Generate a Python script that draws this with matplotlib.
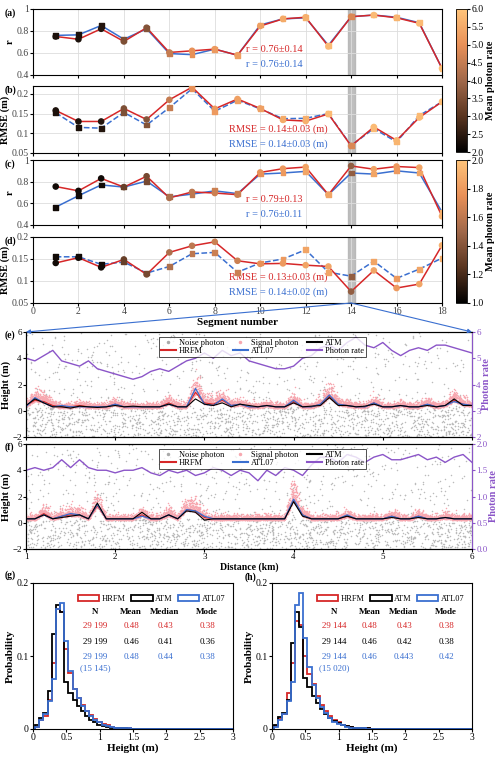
import numpy as np
import matplotlib
matplotlib.use("Agg")
import matplotlib.pyplot as plt
from matplotlib.colors import LinearSegmentedColormap, Normalize
from matplotlib.patches import ConnectionPatch
from matplotlib.lines import Line2D
from matplotlib.patches import Patch

plt.rcParams['font.family'] = ['Liberation Serif', 'DejaVu Serif']
plt.rcParams['font.size'] = 7

RED = '#d62728'; BLUE = '#3a6fd0'; PURP = '#8b55c8'

seg = np.arange(1, 19)
r_h_a = [0.75,0.725,0.82,0.705,0.83,0.605,0.62,0.635,0.58,0.845,0.91,0.925,0.66,0.93,0.945,0.92,0.87,0.46]
r_a_a = [0.76,0.765,0.85,0.725,0.82,0.595,0.585,0.635,0.58,0.855,0.91,0.92,0.67,0.93,0.945,0.925,0.875,0.46]
rm_h_b = [0.158,0.13,0.13,0.163,0.135,0.185,0.217,0.162,0.187,0.163,0.134,0.131,0.149,0.068,0.116,0.082,0.14,0.18]
rm_a_b = [0.152,0.115,0.113,0.153,0.121,0.165,0.213,0.156,0.184,0.162,0.137,0.138,0.150,0.069,0.112,0.078,0.145,0.18]
rate_ab = [2.3,2.3,2.4,3.5,3.6,4.5,5.0,5.2,5.3,5.3,5.5,5.6,5.8,4.8,5.8,5.7,5.8,5.9]
r_h_c = [0.755,0.715,0.83,0.75,0.85,0.65,0.705,0.695,0.68,0.885,0.92,0.935,0.68,0.945,0.915,0.94,0.93,0.48]
r_a_c = [0.565,0.67,0.77,0.75,0.805,0.66,0.685,0.715,0.69,0.87,0.88,0.895,0.68,0.88,0.87,0.9,0.88,0.52]
rm_h_d = [0.141,0.153,0.131,0.149,0.115,0.165,0.180,0.189,0.146,0.139,0.140,0.136,0.133,0.076,0.124,0.084,0.093,0.181]
rm_a_d = [0.155,0.155,0.138,0.143,0.118,0.133,0.162,0.165,0.120,0.141,0.150,0.171,0.120,0.111,0.145,0.106,0.127,0.152]
rate_cd = [1.05,1.05,1.05,1.3,1.35,1.55,1.6,1.65,1.65,1.75,1.8,1.85,1.85,1.45,1.85,1.8,1.85,1.9]

dist = np.round(np.arange(1, 6.0001, 0.1), 2)
rate_e = [5.0,4.9,5.1,5.3,4.9,4.8,4.7,4.9,4.6,4.5,4.4,4.3,4.2,4.3,4.5,4.6,4.5,4.7,4.9,5.0,5.2,5.0,5.3,5.1,5.2,4.9,4.8,4.7,4.6,4.6,4.7,5.0,5.1,5.4,5.5,5.3,5.6,5.8,5.5,5.4,5.6,5.3,5.1,5.3,5.4,5.3,5.5,5.5,5.4,5.3,5.2]
atm_e = [0.4,0.9,0.6,0.3,0.3,0.2,0.35,0.3,0.25,0.3,0.4,0.3,0.35,0.3,0.3,0.3,0.5,0.3,0.3,0.9,0.5,0.4,0.6,0.3,0.5,0.4,0.3,0.4,0.3,0.3,0.6,0.3,0.35,0.4,1.0,0.4,0.4,0.3,0.35,0.5,0.3,0.3,0.4,0.3,0.3,0.4,0.3,0.4,0.9,0.4,0.4]
hrfm_e = [0.4,0.8,0.7,0.4,0.3,0.3,0.4,0.3,0.3,0.3,0.5,0.3,0.3,0.3,0.3,0.3,0.6,0.3,0.3,1.4,0.6,0.5,0.8,0.4,0.5,0.3,0.3,0.4,0.3,0.3,0.7,0.3,0.3,0.5,1.1,0.5,0.4,0.3,0.3,0.6,0.3,0.3,0.4,0.3,0.3,0.5,0.3,0.4,0.8,0.5,0.4]
atl_e = [0.3,1.0,0.6,0.3,0.4,0.3,0.3,0.3,0.3,0.3,0.5,0.3,0.3,0.3,0.3,0.3,0.5,0.3,0.3,1.7,0.5,0.4,0.9,0.4,0.5,0.3,0.3,0.4,0.3,0.3,0.8,0.3,0.3,0.5,1.2,0.5,0.4,0.3,0.3,0.6,0.3,0.3,0.4,0.3,0.3,0.5,0.3,0.4,0.7,0.5,0.4]
rate_f = [1.5,1.55,1.5,1.55,1.7,1.55,1.7,1.55,1.5,1.5,1.45,1.5,1.5,1.55,1.45,1.4,1.5,1.45,1.5,1.4,1.45,1.55,1.5,1.4,1.5,1.45,1.3,1.5,1.4,1.55,1.5,1.4,1.6,1.75,1.75,1.65,1.8,1.75,1.65,1.75,1.8,1.7,1.7,1.75,1.8,1.7,1.75,1.65,1.75,1.8,1.65]
atm_f = [0.3,0.3,0.6,0.3,0.4,0.5,0.6,0.3,1.5,0.3,0.3,0.3,0.3,0.8,0.3,0.3,0.6,0.3,0.9,0.8,0.2,0.3,0.3,0.3,0.3,0.3,0.3,0.3,0.3,0.3,1.6,0.5,0.3,0.3,0.3,0.3,0.5,0.3,0.3,0.3,0.3,0.4,0.3,0.3,0.4,0.3,0.3,0.4,0.3,0.3,0.3]
hrfm_f = [0.3,0.3,0.7,0.3,0.5,0.6,0.6,0.3,1.3,0.3,0.3,0.3,0.3,0.6,0.3,0.3,0.6,0.3,1.0,0.9,0.4,0.3,0.3,0.3,0.3,0.3,0.3,0.3,0.3,0.3,1.7,0.6,0.3,0.3,0.3,0.3,0.5,0.3,0.3,0.3,0.3,0.5,0.3,0.3,0.5,0.3,0.3,0.4,0.3,0.3,0.3]
atl_f = [0.3,0.3,0.6,0.3,0.5,0.7,0.6,0.3,1.4,0.3,0.3,0.3,0.3,0.5,0.3,0.3,0.6,0.3,1.0,0.9,0.5,0.3,0.3,0.3,0.3,0.3,0.3,0.3,0.3,0.3,1.8,0.6,0.3,0.3,0.3,0.3,0.6,0.3,0.3,0.3,0.3,0.5,0.3,0.3,0.5,0.3,0.3,0.4,0.3,0.3,0.3]

tail = [0]*24
g_atm = [0.005,0.015,0.022,0.052,0.13,0.17,0.16,0.065,0.05,0.04,0.032,0.024,0.018,0.013,0.009,0.006,0.004,0.003,0.002,0.0015,0.001,0.0007,0.0005,0.0003]+tail
g_hrfm = [0.003,0.012,0.018,0.04,0.09,0.165,0.16,0.11,0.077,0.055,0.042,0.033,0.025,0.019,0.014,0.01,0.007,0.005,0.003,0.002,0.0015,0.001,0.0007,0.0004]+tail
g_atl = [0.003,0.012,0.02,0.038,0.068,0.165,0.172,0.12,0.08,0.055,0.043,0.032,0.025,0.018,0.013,0.009,0.006,0.004,0.003,0.002,0.0015,0.001,0.0007,0.0004]+tail
h_atm = [0.005,0.016,0.022,0.04,0.118,0.16,0.14,0.07,0.058,0.045,0.035,0.027,0.02,0.015,0.011,0.008,0.006,0.004,0.003,0.002,0.0015,0.001,0.0007,0.0004]+tail
h_hrfm = [0.004,0.014,0.02,0.05,0.09,0.148,0.142,0.1,0.075,0.062,0.045,0.033,0.025,0.018,0.013,0.009,0.006,0.004,0.003,0.002,0.0015,0.001,0.0007,0.0004]+tail
h_atl = [0.003,0.012,0.02,0.038,0.065,0.17,0.186,0.125,0.085,0.06,0.043,0.03,0.022,0.015,0.01,0.007,0.005,0.003,0.002,0.0015,0.001,0.0007,0.0005,0.0003]+tail
edges = np.linspace(0.03, 3.03, 49)

W, H = 500, 759
fig = plt.figure(figsize=(5, 7.59), dpi=100)
def ax_px(x0, y0, x1, y1):
    return fig.add_axes([x0/W, 1-y1/H, (x1-x0)/W, (y1-y0)/H])
def flabel(x, y, s):
    fig.text(x/W, 1-y/H, s, fontweight='bold', fontsize=7, va='top', ha='left')

cmap = LinearSegmentedColormap.from_list('c', ['#000000', '#5a3520', '#a0684a', '#e89058', '#ffc47a'])

def seg_panel(ax, yh, ya, rate, vmin, vmax, dashed, ylim, yticks, ylabel, texts):
    norm = Normalize(vmin, vmax)
    ax.axvspan(13.85, 14.15, color='#b0b0b0', alpha=0.8, zorder=0)
    ax.plot(seg, ya, color=BLUE, lw=1.1, ls='--' if dashed else '-', zorder=2)
    ax.plot(seg, yh, color=RED, lw=1.1, zorder=3)
    ax.scatter(seg, ya, c=rate, cmap=cmap, norm=norm, marker='s', s=12, zorder=4)
    ax.scatter(seg, yh, c=rate, cmap=cmap, norm=norm, marker='o', s=14, zorder=5)
    ax.set_xlim(0, 18); ax.set_ylim(*ylim); ax.set_yticks(yticks)
    ax.set_yticklabels([('%g' % t) for t in yticks])
    ax.set_xticks(range(0, 19, 2))
    ax.grid(True, color='#dddddd', lw=0.6); ax.set_axisbelow(True)
    ax.set_ylabel(ylabel, fontweight='bold', fontsize=7.5, labelpad=1)
    ax.tick_params(length=2, pad=1, labelsize=7, labelcolor='#444444')
    for (x, y, s, c) in texts:
        ax.text(x, y, s, color=c, transform=ax.transAxes, fontsize=7.5)
    return norm

axa = ax_px(33, 9, 442, 75); axb = ax_px(33, 86, 442, 153)
axc = ax_px(33, 160, 442, 225); axd = ax_px(33, 237, 442, 303)
seg_panel(axa, r_h_a, r_a_a, rate_ab, 2, 6, False, (0.4, 1), [0.4,0.6,0.8,1], 'r',
          [(0.52, 0.35, 'r = 0.76±0.14', RED), (0.52, 0.12, 'r = 0.76±0.14', BLUE)])
nab = seg_panel(axb, rm_h_b, rm_a_b, rate_ab, 2, 6, True, (0.05, 0.22), [0.05,0.1,0.15,0.2], 'RMSE (m)',
          [(0.48, 0.32, 'RMSE = 0.14±0.03 (m)', RED), (0.48, 0.10, 'RMSE = 0.14±0.03 (m)', BLUE)])
seg_panel(axc, r_h_c, r_a_c, rate_cd, 1, 2, False, (0.4, 1), [0.4,0.6,0.8,1], 'r',
          [(0.52, 0.35, 'r = 0.79±0.13', RED), (0.52, 0.12, 'r = 0.76±0.11', BLUE)])
ncd = seg_panel(axd, rm_h_d, rm_a_d, rate_cd, 1, 2, True, (0.05, 0.2), [0.05,0.1,0.15,0.2], 'RMSE (m)',
          [(0.48, 0.35, 'RMSE = 0.13±0.03 (m)', RED), (0.48, 0.12, 'RMSE = 0.14±0.02 (m)', BLUE)])
for ax in (axa, axb, axc):
    ax.set_xticklabels([])
axd.set_xlabel('Segment number', fontweight='bold', fontsize=8, labelpad=1)
for y, s in [(8, '(a)'), (85, '(b)'), (159, '(c)'), (236, '(d)'), (330, '(e)'), (442, '(f)'), (570, '(g)'), (572, '(h)')]:
    flabel(5 if s != '(h)' else 245, y, s)

for (y0, y1, norm, ticks) in [(9, 152, nab, [2,2.5,3,3.5,4,4.5,5,5.5,6]), (160, 303, ncd, [1,1.2,1.4,1.6,1.8,2])]:
    cax = ax_px(456, y0, 467, y1)
    cb = fig.colorbar(plt.cm.ScalarMappable(norm=norm, cmap=cmap), cax=cax, ticks=ticks)
    cb.ax.tick_params(labelsize=7, length=2, pad=1)
    cb.set_label('Mean photon rate', fontweight='bold', fontsize=7.5, labelpad=2)
    cb.outline.set_linewidth(0.6)

rng = np.random.default_rng(3)
def profile(ax, atm, hrfm, atl, rate, rlim, rticks, showx):
    nx = rng.uniform(1, 6, 1900)
    ny = np.concatenate([rng.uniform(-2, 6, 700), rng.uniform(-2, 0.3, 1200)])
    ax.scatter(nx, ny, s=1.2, color='#bbbbbb', lw=0, zorder=1)
    sx = rng.uniform(1, 6, 6000); sh = np.interp(sx, dist, hrfm)
    sy = sh + np.abs(rng.normal(0, 0.2, 6000)) * (1 + 2.5*(sh-0.3)) - 0.1
    ax.scatter(sx, sy, s=1.2, color='#f7a8b0', lw=0, zorder=2)
    ax.plot(dist, hrfm, color=RED, lw=0.8, zorder=3)
    ax.plot(dist, atl, color=BLUE, lw=0.9, zorder=4)
    ax.plot(dist, atm, color='black', lw=0.8, zorder=5)
    ax.set_xlim(1, 6); ax.set_ylim(-2, 6); ax.set_yticks([-2,0,2,4,6])
    ax.set_ylabel('Height (m)', fontweight='bold', fontsize=7.5, labelpad=1)
    ax.tick_params(length=2, pad=1, labelsize=6.5)
    ax2 = ax.twinx()
    ax2.plot(dist, rate, color=PURP, lw=1.0)
    ax2.set_ylim(*rlim); ax2.set_yticks(rticks)
    ax2.tick_params(colors=PURP, length=2, pad=1, labelsize=6.5)
    ax2.spines['right'].set_color(PURP)
    ax2.set_ylabel('Photon rate', color=PURP, fontweight='bold', fontsize=7.5, labelpad=1)
    if not showx:
        ax.set_xticklabels([])
    else:
        ax.set_xlabel('Distance (km)', fontweight='bold', fontsize=7, labelpad=1)
    handles = [Line2D([], [], ls='', marker='.', color='#aaaaaa', ms=3), Line2D([], [], color=RED),
               Line2D([], [], ls='', marker='.', color='#f7a8b0', ms=3), Line2D([], [], color=BLUE),
               Line2D([], [], color='black'), Line2D([], [], color=PURP)]
    labels = ['Noise photon', 'HRFM', 'Signal photon', 'ATL07', 'ATM', 'Photon rate']
    leg = ax2.legend(handles, labels, ncol=3, loc='upper center', bbox_to_anchor=(0.53, 0.99), fontsize=6,
                     frameon=True, fancybox=False, edgecolor='black', handlelength=1.8, columnspacing=1.0,
                     labelspacing=0.05, borderpad=0.2, handletextpad=0.4)
    leg.get_frame().set_linewidth(0.6)
    return ax

axe = profile(ax_px(26, 332, 472, 437), atm_e, hrfm_e, atl_e, rate_e, (2, 6), [2,3,4,5,6], False)
axf = profile(ax_px(26, 444, 472, 549), atm_f, hrfm_f, atl_f, rate_f, (0, 2), [0,0.5,1,1.5,2], True)

for xe in (1, 6):
    con = ConnectionPatch(xyA=(14, 0.05), coordsA=axd.transData, xyB=(xe, 6), coordsB=axe.transData,
                          color=BLUE, lw=0.8, arrowstyle='-|>', mutation_scale=6)
    fig.add_artist(con)

def hist_panel(ax, atm, hrfm, atl, nt, mt):
    for vals, c in [(hrfm, RED), (atm, 'black'), (atl, BLUE)]:
        ax.stairs(vals, edges, color=c, lw=1.3)
    ax.set_xlim(0, 3); ax.set_ylim(0, 0.2); ax.set_yticks([0, 0.1, 0.2])
    ax.set_yticklabels(['0', '0.1', '0.2']); ax.set_xticks([0,0.5,1,1.5,2,2.5,3])
    ax.set_xticklabels(['0','0.5','1','1.5','2','2.5','3'])
    ax.tick_params(length=2, pad=1, labelsize=7)
    ax.set_xlabel('Height (m)', fontweight='bold', fontsize=8, labelpad=1)
    ax.set_ylabel('Probability', fontweight='bold', fontsize=8, labelpad=1)
    hs = [Patch(facecolor='white', edgecolor=c, lw=1.3) for c in (RED, 'black', BLUE)]
    ax.legend(hs, ['HRFM', 'ATM', 'ATL07'], ncol=3, loc='upper right', bbox_to_anchor=(1.0, 0.97),
              frameon=False, fontsize=6, handlelength=2.6, handleheight=0.6, columnspacing=0.6, handletextpad=0.3)
    xs = [0.31, 0.49, 0.66, 0.87]
    for x, s in zip(xs, ['N', 'Mean', 'Median', 'Mode']):
        ax.text(x, 0.79, s, transform=ax.transAxes, ha='center', fontweight='bold', fontsize=6.5)
    for row, (vals, c) in enumerate(zip(mt, [RED, 'black', BLUE])):
        for x, s in zip(xs, vals):
            ax.text(x, 0.69 - row*0.105, s, transform=ax.transAxes, ha='center', color=c, fontsize=6.5)
    ax.text(xs[0], 0.69 - 3*0.105 + 0.03, nt, transform=ax.transAxes, ha='center', color=BLUE, fontsize=6.5)

hist_panel(ax_px(33, 583, 233, 729), g_atm, g_hrfm, g_atl, '(15 145)',
           [['29 199','0.48','0.43','0.38'], ['29 199','0.46','0.41','0.36'], ['29 199','0.48','0.44','0.38']])
hist_panel(ax_px(272, 583, 472, 729), h_atm, h_hrfm, h_atl, '(15 020)',
           [['29 144','0.48','0.43','0.38'], ['29 144','0.46','0.42','0.38'], ['29 144','0.46','0.443','0.42']])

fig.savefig('out.png', dpi=100)
